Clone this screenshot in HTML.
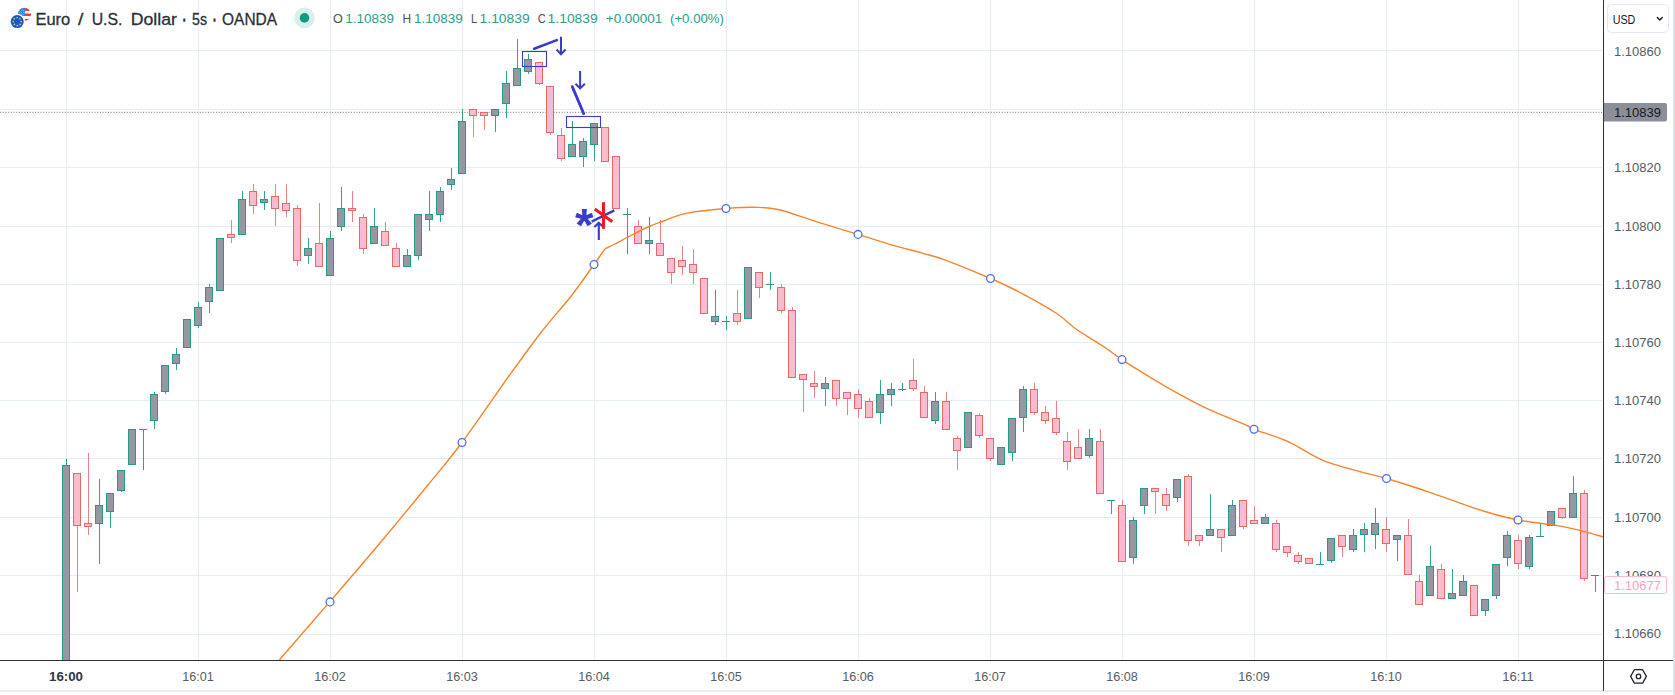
<!DOCTYPE html>
<html><head><meta charset="utf-8"><title>Euro / U.S. Dollar</title>
<style>html,body{margin:0;padding:0;background:#fff;overflow:hidden}svg{display:block}text{font-family:"Liberation Sans",sans-serif}</style></head><body>
<svg width="1675" height="695" viewBox="0 0 1675 695">
<rect x="0" y="0" width="1675" height="695" fill="#ffffff"/>
<rect x="0" y="690" width="1673" height="2" fill="#eceef4"/>
<rect x="1673" y="0" width="2" height="695" fill="#e0e3eb"/>
<g shape-rendering="crispEdges">
<rect x="66" y="0" width="1" height="660" fill="#e6edf3"/>
<rect x="198" y="0" width="1" height="660" fill="#e6edf3"/>
<rect x="330" y="0" width="1" height="660" fill="#e6edf3"/>
<rect x="462" y="0" width="1" height="660" fill="#e6edf3"/>
<rect x="594" y="0" width="1" height="660" fill="#e6edf3"/>
<rect x="726" y="0" width="1" height="660" fill="#e6edf3"/>
<rect x="858" y="0" width="1" height="660" fill="#e6edf3"/>
<rect x="990" y="0" width="1" height="660" fill="#e6edf3"/>
<rect x="1122" y="0" width="1" height="660" fill="#e6edf3"/>
<rect x="1254" y="0" width="1" height="660" fill="#e6edf3"/>
<rect x="1386" y="0" width="1" height="660" fill="#e6edf3"/>
<rect x="1518" y="0" width="1" height="660" fill="#e6edf3"/>
<rect x="0" y="50" width="1602" height="1" fill="#e6edf3"/>
<rect x="0" y="109" width="1602" height="1" fill="#e6edf3"/>
<rect x="0" y="167" width="1602" height="1" fill="#e6edf3"/>
<rect x="0" y="226" width="1602" height="1" fill="#e6edf3"/>
<rect x="0" y="284" width="1602" height="1" fill="#e6edf3"/>
<rect x="0" y="342" width="1602" height="1" fill="#e6edf3"/>
<rect x="0" y="400" width="1602" height="1" fill="#e6edf3"/>
<rect x="0" y="458" width="1602" height="1" fill="#e6edf3"/>
<rect x="0" y="517" width="1602" height="1" fill="#e6edf3"/>
<rect x="0" y="575" width="1602" height="1" fill="#e6edf3"/>
<rect x="0" y="634" width="1602" height="1" fill="#e6edf3"/>
</g>
<line x1="0" y1="112.3" x2="1603" y2="112.3" stroke="#8e919b" stroke-width="1.2" stroke-dasharray="1 1.7"/>
<g shape-rendering="crispEdges">
<rect x="66" y="459" width="1" height="201" fill="#2fa294"/>
<rect x="62" y="465" width="8" height="195" fill="#26998c"/>
<rect x="63" y="466" width="6" height="194" fill="#9598a1"/>
<rect x="77" y="474" width="1" height="118" fill="#e88383"/>
<rect x="73" y="473" width="8" height="53" fill="#e46a6a"/>
<rect x="74" y="474" width="6" height="51" fill="#f8bbd0"/>
<rect x="88" y="453" width="1" height="82" fill="#e88383"/>
<rect x="84" y="523" width="8" height="4" fill="#e46a6a"/>
<rect x="85" y="524" width="6" height="2" fill="#f8bbd0"/>
<rect x="99" y="479" width="1" height="85" fill="#2fa294"/>
<rect x="95" y="505" width="8" height="19" fill="#26998c"/>
<rect x="96" y="506" width="6" height="17" fill="#9598a1"/>
<rect x="110" y="493" width="1" height="35" fill="#2fa294"/>
<rect x="106" y="493" width="8" height="19" fill="#26998c"/>
<rect x="107" y="494" width="6" height="17" fill="#9598a1"/>
<rect x="121" y="470" width="1" height="22" fill="#2fa294"/>
<rect x="117" y="470" width="8" height="21" fill="#26998c"/>
<rect x="118" y="471" width="6" height="19" fill="#9598a1"/>
<rect x="132" y="430" width="1" height="35" fill="#2fa294"/>
<rect x="128" y="429" width="8" height="36" fill="#26998c"/>
<rect x="129" y="430" width="6" height="34" fill="#9598a1"/>
<rect x="143" y="430" width="1" height="40" fill="#2fa294"/>
<rect x="139" y="429" width="8" height="1" fill="#26998c"/>
<rect x="154" y="392" width="1" height="37" fill="#2fa294"/>
<rect x="150" y="394" width="8" height="27" fill="#26998c"/>
<rect x="151" y="395" width="6" height="25" fill="#9598a1"/>
<rect x="165" y="366" width="1" height="28" fill="#2fa294"/>
<rect x="161" y="365" width="8" height="27" fill="#26998c"/>
<rect x="162" y="366" width="6" height="25" fill="#9598a1"/>
<rect x="176" y="348" width="1" height="22" fill="#2fa294"/>
<rect x="172" y="354" width="8" height="10" fill="#26998c"/>
<rect x="173" y="355" width="6" height="8" fill="#9598a1"/>
<rect x="187" y="319" width="1" height="29" fill="#2fa294"/>
<rect x="183" y="319" width="8" height="29" fill="#26998c"/>
<rect x="184" y="320" width="6" height="27" fill="#9598a1"/>
<rect x="198" y="302" width="1" height="26" fill="#2fa294"/>
<rect x="194" y="307" width="8" height="19" fill="#26998c"/>
<rect x="195" y="308" width="6" height="17" fill="#9598a1"/>
<rect x="209" y="284" width="1" height="29" fill="#2fa294"/>
<rect x="205" y="287" width="8" height="15" fill="#26998c"/>
<rect x="206" y="288" width="6" height="13" fill="#9598a1"/>
<rect x="220" y="238" width="1" height="53" fill="#2fa294"/>
<rect x="216" y="238" width="8" height="53" fill="#26998c"/>
<rect x="217" y="239" width="6" height="51" fill="#9598a1"/>
<rect x="231" y="220" width="1" height="23" fill="#e88383"/>
<rect x="227" y="234" width="8" height="4" fill="#e46a6a"/>
<rect x="228" y="235" width="6" height="2" fill="#f8bbd0"/>
<rect x="242" y="191" width="1" height="43" fill="#2fa294"/>
<rect x="238" y="199" width="8" height="36" fill="#26998c"/>
<rect x="239" y="200" width="6" height="34" fill="#9598a1"/>
<rect x="253" y="184" width="1" height="30" fill="#e88383"/>
<rect x="249" y="191" width="8" height="15" fill="#e46a6a"/>
<rect x="250" y="192" width="6" height="13" fill="#f8bbd0"/>
<rect x="264" y="191" width="1" height="19" fill="#2fa294"/>
<rect x="260" y="199" width="8" height="4" fill="#26998c"/>
<rect x="261" y="200" width="6" height="2" fill="#9598a1"/>
<rect x="275" y="184" width="1" height="42" fill="#e88383"/>
<rect x="271" y="196" width="8" height="13" fill="#e46a6a"/>
<rect x="272" y="197" width="6" height="11" fill="#f8bbd0"/>
<rect x="286" y="184" width="1" height="33" fill="#e88383"/>
<rect x="282" y="203" width="8" height="8" fill="#e46a6a"/>
<rect x="283" y="204" width="6" height="6" fill="#f8bbd0"/>
<rect x="297" y="205" width="1" height="61" fill="#e88383"/>
<rect x="293" y="208" width="8" height="53" fill="#e46a6a"/>
<rect x="294" y="209" width="6" height="51" fill="#f8bbd0"/>
<rect x="308" y="238" width="1" height="26" fill="#2fa294"/>
<rect x="304" y="248" width="8" height="8" fill="#26998c"/>
<rect x="305" y="249" width="6" height="6" fill="#9598a1"/>
<rect x="319" y="203" width="1" height="64" fill="#e88383"/>
<rect x="315" y="243" width="8" height="24" fill="#e46a6a"/>
<rect x="316" y="244" width="6" height="22" fill="#f8bbd0"/>
<rect x="330" y="231" width="1" height="45" fill="#2fa294"/>
<rect x="326" y="238" width="8" height="38" fill="#26998c"/>
<rect x="327" y="239" width="6" height="36" fill="#9598a1"/>
<rect x="341" y="187" width="1" height="44" fill="#2fa294"/>
<rect x="337" y="208" width="8" height="19" fill="#26998c"/>
<rect x="338" y="209" width="6" height="17" fill="#9598a1"/>
<rect x="352" y="191" width="1" height="31" fill="#e88383"/>
<rect x="348" y="208" width="8" height="3" fill="#e46a6a"/>
<rect x="349" y="209" width="6" height="1" fill="#f8bbd0"/>
<rect x="363" y="214" width="1" height="40" fill="#e88383"/>
<rect x="359" y="217" width="8" height="32" fill="#e46a6a"/>
<rect x="360" y="218" width="6" height="30" fill="#f8bbd0"/>
<rect x="374" y="208" width="1" height="36" fill="#2fa294"/>
<rect x="370" y="226" width="8" height="18" fill="#26998c"/>
<rect x="371" y="227" width="6" height="16" fill="#9598a1"/>
<rect x="385" y="222" width="1" height="24" fill="#e88383"/>
<rect x="381" y="231" width="8" height="15" fill="#e46a6a"/>
<rect x="382" y="232" width="6" height="13" fill="#f8bbd0"/>
<rect x="396" y="243" width="1" height="24" fill="#e88383"/>
<rect x="392" y="248" width="8" height="19" fill="#e46a6a"/>
<rect x="393" y="249" width="6" height="17" fill="#f8bbd0"/>
<rect x="407" y="249" width="1" height="18" fill="#2fa294"/>
<rect x="403" y="255" width="8" height="12" fill="#26998c"/>
<rect x="404" y="256" width="6" height="10" fill="#9598a1"/>
<rect x="418" y="214" width="1" height="46" fill="#2fa294"/>
<rect x="414" y="214" width="8" height="42" fill="#26998c"/>
<rect x="415" y="215" width="6" height="40" fill="#9598a1"/>
<rect x="429" y="191" width="1" height="40" fill="#2fa294"/>
<rect x="425" y="214" width="8" height="6" fill="#26998c"/>
<rect x="426" y="215" width="6" height="4" fill="#9598a1"/>
<rect x="440" y="187" width="1" height="35" fill="#2fa294"/>
<rect x="436" y="191" width="8" height="24" fill="#26998c"/>
<rect x="437" y="192" width="6" height="22" fill="#9598a1"/>
<rect x="451" y="168" width="1" height="22" fill="#2fa294"/>
<rect x="447" y="179" width="8" height="6" fill="#26998c"/>
<rect x="448" y="180" width="6" height="4" fill="#9598a1"/>
<rect x="462" y="109" width="1" height="65" fill="#2fa294"/>
<rect x="458" y="121" width="8" height="53" fill="#26998c"/>
<rect x="459" y="122" width="6" height="51" fill="#9598a1"/>
<rect x="473" y="110" width="1" height="27" fill="#e88383"/>
<rect x="469" y="109" width="8" height="7" fill="#e46a6a"/>
<rect x="470" y="110" width="6" height="5" fill="#f8bbd0"/>
<rect x="484" y="112" width="1" height="18" fill="#e88383"/>
<rect x="480" y="112" width="8" height="4" fill="#e46a6a"/>
<rect x="481" y="113" width="6" height="2" fill="#f8bbd0"/>
<rect x="495" y="110" width="1" height="22" fill="#2fa294"/>
<rect x="491" y="109" width="8" height="7" fill="#26998c"/>
<rect x="492" y="110" width="6" height="5" fill="#9598a1"/>
<rect x="506" y="71" width="1" height="47" fill="#2fa294"/>
<rect x="502" y="83" width="8" height="21" fill="#26998c"/>
<rect x="503" y="84" width="6" height="19" fill="#9598a1"/>
<rect x="517" y="39" width="1" height="47" fill="#2fa294"/>
<rect x="513" y="68" width="8" height="18" fill="#26998c"/>
<rect x="514" y="69" width="6" height="16" fill="#9598a1"/>
<rect x="528" y="54" width="1" height="20" fill="#2fa294"/>
<rect x="524" y="59" width="8" height="13" fill="#26998c"/>
<rect x="525" y="60" width="6" height="11" fill="#9598a1"/>
<rect x="539" y="62" width="1" height="23" fill="#e88383"/>
<rect x="535" y="62" width="8" height="22" fill="#e46a6a"/>
<rect x="536" y="63" width="6" height="20" fill="#f8bbd0"/>
<rect x="550" y="86" width="1" height="49" fill="#e88383"/>
<rect x="546" y="86" width="8" height="47" fill="#e46a6a"/>
<rect x="547" y="87" width="6" height="45" fill="#f8bbd0"/>
<rect x="561" y="128" width="1" height="33" fill="#e88383"/>
<rect x="557" y="135" width="8" height="24" fill="#e46a6a"/>
<rect x="558" y="136" width="6" height="22" fill="#f8bbd0"/>
<rect x="572" y="121" width="1" height="35" fill="#2fa294"/>
<rect x="568" y="144" width="8" height="13" fill="#26998c"/>
<rect x="569" y="145" width="6" height="11" fill="#9598a1"/>
<rect x="583" y="138" width="1" height="29" fill="#2fa294"/>
<rect x="579" y="141" width="8" height="16" fill="#26998c"/>
<rect x="580" y="142" width="6" height="14" fill="#9598a1"/>
<rect x="594" y="124" width="1" height="37" fill="#2fa294"/>
<rect x="590" y="123" width="8" height="22" fill="#26998c"/>
<rect x="591" y="124" width="6" height="20" fill="#9598a1"/>
<rect x="605" y="128" width="1" height="33" fill="#e88383"/>
<rect x="601" y="127" width="8" height="35" fill="#e46a6a"/>
<rect x="602" y="128" width="6" height="33" fill="#f8bbd0"/>
<rect x="616" y="156" width="1" height="53" fill="#e88383"/>
<rect x="612" y="156" width="8" height="53" fill="#e46a6a"/>
<rect x="613" y="157" width="6" height="51" fill="#f8bbd0"/>
<rect x="627" y="208" width="1" height="46" fill="#2fa294"/>
<rect x="623" y="214" width="8" height="1" fill="#26998c"/>
<rect x="638" y="220" width="1" height="24" fill="#e88383"/>
<rect x="634" y="226" width="8" height="18" fill="#e46a6a"/>
<rect x="635" y="227" width="6" height="16" fill="#f8bbd0"/>
<rect x="649" y="217" width="1" height="37" fill="#2fa294"/>
<rect x="645" y="240" width="8" height="4" fill="#26998c"/>
<rect x="646" y="241" width="6" height="2" fill="#9598a1"/>
<rect x="660" y="220" width="1" height="35" fill="#e88383"/>
<rect x="656" y="243" width="8" height="13" fill="#e46a6a"/>
<rect x="657" y="244" width="6" height="11" fill="#f8bbd0"/>
<rect x="671" y="258" width="1" height="26" fill="#e88383"/>
<rect x="667" y="258" width="8" height="15" fill="#e46a6a"/>
<rect x="668" y="259" width="6" height="13" fill="#f8bbd0"/>
<rect x="682" y="246" width="1" height="29" fill="#e88383"/>
<rect x="678" y="260" width="8" height="7" fill="#e46a6a"/>
<rect x="679" y="261" width="6" height="5" fill="#f8bbd0"/>
<rect x="693" y="249" width="1" height="35" fill="#e88383"/>
<rect x="689" y="264" width="8" height="9" fill="#e46a6a"/>
<rect x="690" y="265" width="6" height="7" fill="#f8bbd0"/>
<rect x="704" y="279" width="1" height="35" fill="#e88383"/>
<rect x="700" y="278" width="8" height="36" fill="#e46a6a"/>
<rect x="701" y="279" width="6" height="34" fill="#f8bbd0"/>
<rect x="715" y="290" width="1" height="35" fill="#2fa294"/>
<rect x="711" y="316" width="8" height="6" fill="#26998c"/>
<rect x="712" y="317" width="6" height="4" fill="#9598a1"/>
<rect x="726" y="316" width="1" height="14" fill="#2fa294"/>
<rect x="722" y="321" width="8" height="1" fill="#26998c"/>
<rect x="737" y="290" width="1" height="35" fill="#e88383"/>
<rect x="733" y="313" width="8" height="9" fill="#e46a6a"/>
<rect x="734" y="314" width="6" height="7" fill="#f8bbd0"/>
<rect x="748" y="267" width="1" height="52" fill="#2fa294"/>
<rect x="744" y="267" width="8" height="52" fill="#26998c"/>
<rect x="745" y="268" width="6" height="50" fill="#9598a1"/>
<rect x="759" y="272" width="1" height="26" fill="#e88383"/>
<rect x="755" y="272" width="8" height="16" fill="#e46a6a"/>
<rect x="756" y="273" width="6" height="14" fill="#f8bbd0"/>
<rect x="770" y="272" width="1" height="18" fill="#2fa294"/>
<rect x="766" y="284" width="8" height="1" fill="#26998c"/>
<rect x="781" y="284" width="1" height="29" fill="#e88383"/>
<rect x="777" y="287" width="8" height="24" fill="#e46a6a"/>
<rect x="778" y="288" width="6" height="22" fill="#f8bbd0"/>
<rect x="792" y="307" width="1" height="70" fill="#e88383"/>
<rect x="788" y="310" width="8" height="68" fill="#e46a6a"/>
<rect x="789" y="311" width="6" height="66" fill="#f8bbd0"/>
<rect x="803" y="375" width="1" height="37" fill="#e88383"/>
<rect x="799" y="374" width="8" height="6" fill="#e46a6a"/>
<rect x="800" y="375" width="6" height="4" fill="#f8bbd0"/>
<rect x="814" y="371" width="1" height="27" fill="#e88383"/>
<rect x="810" y="383" width="8" height="4" fill="#e46a6a"/>
<rect x="811" y="384" width="6" height="2" fill="#f8bbd0"/>
<rect x="825" y="377" width="1" height="29" fill="#2fa294"/>
<rect x="821" y="383" width="8" height="6" fill="#26998c"/>
<rect x="822" y="384" width="6" height="4" fill="#9598a1"/>
<rect x="836" y="380" width="1" height="26" fill="#e88383"/>
<rect x="832" y="380" width="8" height="19" fill="#e46a6a"/>
<rect x="833" y="381" width="6" height="17" fill="#f8bbd0"/>
<rect x="847" y="392" width="1" height="23" fill="#e88383"/>
<rect x="843" y="392" width="8" height="7" fill="#e46a6a"/>
<rect x="844" y="393" width="6" height="5" fill="#f8bbd0"/>
<rect x="858" y="389" width="1" height="29" fill="#e88383"/>
<rect x="854" y="394" width="8" height="15" fill="#e46a6a"/>
<rect x="855" y="395" width="6" height="13" fill="#f8bbd0"/>
<rect x="869" y="398" width="1" height="20" fill="#e88383"/>
<rect x="865" y="401" width="8" height="17" fill="#e46a6a"/>
<rect x="866" y="402" width="6" height="15" fill="#f8bbd0"/>
<rect x="880" y="380" width="1" height="44" fill="#2fa294"/>
<rect x="876" y="394" width="8" height="19" fill="#26998c"/>
<rect x="877" y="395" width="6" height="17" fill="#9598a1"/>
<rect x="891" y="383" width="1" height="23" fill="#2fa294"/>
<rect x="887" y="389" width="8" height="6" fill="#26998c"/>
<rect x="888" y="390" width="6" height="4" fill="#9598a1"/>
<rect x="902" y="383" width="1" height="8" fill="#2fa294"/>
<rect x="898" y="389" width="8" height="1" fill="#26998c"/>
<rect x="913" y="359" width="1" height="32" fill="#e88383"/>
<rect x="909" y="380" width="8" height="9" fill="#e46a6a"/>
<rect x="910" y="381" width="6" height="7" fill="#f8bbd0"/>
<rect x="924" y="386" width="1" height="32" fill="#e88383"/>
<rect x="920" y="392" width="8" height="26" fill="#e46a6a"/>
<rect x="921" y="393" width="6" height="24" fill="#f8bbd0"/>
<rect x="935" y="392" width="1" height="32" fill="#2fa294"/>
<rect x="931" y="401" width="8" height="20" fill="#26998c"/>
<rect x="932" y="402" width="6" height="18" fill="#9598a1"/>
<rect x="946" y="392" width="1" height="37" fill="#e88383"/>
<rect x="942" y="401" width="8" height="29" fill="#e46a6a"/>
<rect x="943" y="402" width="6" height="27" fill="#f8bbd0"/>
<rect x="957" y="436" width="1" height="34" fill="#e88383"/>
<rect x="953" y="438" width="8" height="13" fill="#e46a6a"/>
<rect x="954" y="439" width="6" height="11" fill="#f8bbd0"/>
<rect x="968" y="413" width="1" height="35" fill="#2fa294"/>
<rect x="964" y="412" width="8" height="36" fill="#26998c"/>
<rect x="965" y="413" width="6" height="34" fill="#9598a1"/>
<rect x="979" y="413" width="1" height="25" fill="#e88383"/>
<rect x="975" y="415" width="8" height="21" fill="#e46a6a"/>
<rect x="976" y="416" width="6" height="19" fill="#f8bbd0"/>
<rect x="990" y="438" width="1" height="23" fill="#e88383"/>
<rect x="986" y="438" width="8" height="21" fill="#e46a6a"/>
<rect x="987" y="439" width="6" height="19" fill="#f8bbd0"/>
<rect x="1001" y="448" width="1" height="17" fill="#2fa294"/>
<rect x="997" y="447" width="8" height="18" fill="#26998c"/>
<rect x="998" y="448" width="6" height="16" fill="#9598a1"/>
<rect x="1012" y="418" width="1" height="43" fill="#2fa294"/>
<rect x="1008" y="418" width="8" height="35" fill="#26998c"/>
<rect x="1009" y="419" width="6" height="33" fill="#9598a1"/>
<rect x="1023" y="386" width="1" height="46" fill="#2fa294"/>
<rect x="1019" y="389" width="8" height="29" fill="#26998c"/>
<rect x="1020" y="390" width="6" height="27" fill="#9598a1"/>
<rect x="1034" y="383" width="1" height="32" fill="#e88383"/>
<rect x="1030" y="389" width="8" height="24" fill="#e46a6a"/>
<rect x="1031" y="390" width="6" height="22" fill="#f8bbd0"/>
<rect x="1045" y="406" width="1" height="18" fill="#e88383"/>
<rect x="1041" y="412" width="8" height="9" fill="#e46a6a"/>
<rect x="1042" y="413" width="6" height="7" fill="#f8bbd0"/>
<rect x="1056" y="401" width="1" height="34" fill="#e88383"/>
<rect x="1052" y="418" width="8" height="15" fill="#e46a6a"/>
<rect x="1053" y="419" width="6" height="13" fill="#f8bbd0"/>
<rect x="1067" y="432" width="1" height="38" fill="#e88383"/>
<rect x="1063" y="441" width="8" height="21" fill="#e46a6a"/>
<rect x="1064" y="442" width="6" height="19" fill="#f8bbd0"/>
<rect x="1078" y="429" width="1" height="29" fill="#e88383"/>
<rect x="1074" y="447" width="8" height="12" fill="#e46a6a"/>
<rect x="1075" y="448" width="6" height="10" fill="#f8bbd0"/>
<rect x="1089" y="429" width="1" height="29" fill="#2fa294"/>
<rect x="1085" y="438" width="8" height="18" fill="#26998c"/>
<rect x="1086" y="439" width="6" height="16" fill="#9598a1"/>
<rect x="1100" y="429" width="1" height="65" fill="#e88383"/>
<rect x="1096" y="441" width="8" height="53" fill="#e46a6a"/>
<rect x="1097" y="442" width="6" height="51" fill="#f8bbd0"/>
<rect x="1111" y="500" width="1" height="14" fill="#2fa294"/>
<rect x="1107" y="500" width="8" height="1" fill="#26998c"/>
<rect x="1122" y="500" width="1" height="62" fill="#e88383"/>
<rect x="1118" y="505" width="8" height="57" fill="#e46a6a"/>
<rect x="1119" y="506" width="6" height="55" fill="#f8bbd0"/>
<rect x="1133" y="517" width="1" height="47" fill="#2fa294"/>
<rect x="1129" y="520" width="8" height="38" fill="#26998c"/>
<rect x="1130" y="521" width="6" height="36" fill="#9598a1"/>
<rect x="1144" y="488" width="1" height="26" fill="#2fa294"/>
<rect x="1140" y="488" width="8" height="18" fill="#26998c"/>
<rect x="1141" y="489" width="6" height="16" fill="#9598a1"/>
<rect x="1155" y="488" width="1" height="26" fill="#e88383"/>
<rect x="1151" y="488" width="8" height="4" fill="#e46a6a"/>
<rect x="1152" y="489" width="6" height="2" fill="#f8bbd0"/>
<rect x="1166" y="488" width="1" height="23" fill="#e88383"/>
<rect x="1162" y="494" width="8" height="12" fill="#e46a6a"/>
<rect x="1163" y="495" width="6" height="10" fill="#f8bbd0"/>
<rect x="1177" y="479" width="1" height="23" fill="#2fa294"/>
<rect x="1173" y="479" width="8" height="19" fill="#26998c"/>
<rect x="1174" y="480" width="6" height="17" fill="#9598a1"/>
<rect x="1188" y="474" width="1" height="72" fill="#e88383"/>
<rect x="1184" y="476" width="8" height="65" fill="#e46a6a"/>
<rect x="1185" y="477" width="6" height="63" fill="#f8bbd0"/>
<rect x="1199" y="535" width="1" height="11" fill="#e88383"/>
<rect x="1195" y="535" width="8" height="6" fill="#e46a6a"/>
<rect x="1196" y="536" width="6" height="4" fill="#f8bbd0"/>
<rect x="1210" y="494" width="1" height="41" fill="#2fa294"/>
<rect x="1206" y="529" width="8" height="7" fill="#26998c"/>
<rect x="1207" y="530" width="6" height="5" fill="#9598a1"/>
<rect x="1221" y="529" width="1" height="23" fill="#e88383"/>
<rect x="1217" y="529" width="8" height="9" fill="#e46a6a"/>
<rect x="1218" y="530" width="6" height="7" fill="#f8bbd0"/>
<rect x="1232" y="500" width="1" height="35" fill="#2fa294"/>
<rect x="1228" y="505" width="8" height="31" fill="#26998c"/>
<rect x="1229" y="506" width="6" height="29" fill="#9598a1"/>
<rect x="1243" y="500" width="1" height="29" fill="#e88383"/>
<rect x="1239" y="500" width="8" height="27" fill="#e46a6a"/>
<rect x="1240" y="501" width="6" height="25" fill="#f8bbd0"/>
<rect x="1254" y="506" width="1" height="17" fill="#e88383"/>
<rect x="1250" y="520" width="8" height="4" fill="#e46a6a"/>
<rect x="1251" y="521" width="6" height="2" fill="#f8bbd0"/>
<rect x="1265" y="514" width="1" height="9" fill="#2fa294"/>
<rect x="1261" y="517" width="8" height="7" fill="#26998c"/>
<rect x="1262" y="518" width="6" height="5" fill="#9598a1"/>
<rect x="1276" y="520" width="1" height="32" fill="#e88383"/>
<rect x="1272" y="523" width="8" height="27" fill="#e46a6a"/>
<rect x="1273" y="524" width="6" height="25" fill="#f8bbd0"/>
<rect x="1287" y="547" width="1" height="10" fill="#e88383"/>
<rect x="1283" y="546" width="8" height="7" fill="#e46a6a"/>
<rect x="1284" y="547" width="6" height="5" fill="#f8bbd0"/>
<rect x="1298" y="552" width="1" height="12" fill="#e88383"/>
<rect x="1294" y="555" width="8" height="7" fill="#e46a6a"/>
<rect x="1295" y="556" width="6" height="5" fill="#f8bbd0"/>
<rect x="1309" y="558" width="1" height="6" fill="#e88383"/>
<rect x="1305" y="558" width="8" height="6" fill="#e46a6a"/>
<rect x="1306" y="559" width="6" height="4" fill="#f8bbd0"/>
<rect x="1320" y="552" width="1" height="12" fill="#2fa294"/>
<rect x="1316" y="564" width="8" height="1" fill="#26998c"/>
<rect x="1331" y="538" width="1" height="25" fill="#2fa294"/>
<rect x="1327" y="538" width="8" height="23" fill="#26998c"/>
<rect x="1328" y="539" width="6" height="21" fill="#9598a1"/>
<rect x="1342" y="535" width="1" height="22" fill="#e88383"/>
<rect x="1338" y="535" width="8" height="12" fill="#e46a6a"/>
<rect x="1339" y="536" width="6" height="10" fill="#f8bbd0"/>
<rect x="1353" y="529" width="1" height="23" fill="#2fa294"/>
<rect x="1349" y="535" width="8" height="15" fill="#26998c"/>
<rect x="1350" y="536" width="6" height="13" fill="#9598a1"/>
<rect x="1364" y="523" width="1" height="29" fill="#2fa294"/>
<rect x="1360" y="529" width="8" height="6" fill="#26998c"/>
<rect x="1361" y="530" width="6" height="4" fill="#9598a1"/>
<rect x="1375" y="508" width="1" height="41" fill="#2fa294"/>
<rect x="1371" y="523" width="8" height="12" fill="#26998c"/>
<rect x="1372" y="524" width="6" height="10" fill="#9598a1"/>
<rect x="1386" y="517" width="1" height="35" fill="#e88383"/>
<rect x="1382" y="529" width="8" height="15" fill="#e46a6a"/>
<rect x="1383" y="530" width="6" height="13" fill="#f8bbd0"/>
<rect x="1397" y="535" width="1" height="26" fill="#2fa294"/>
<rect x="1393" y="535" width="8" height="5" fill="#26998c"/>
<rect x="1394" y="536" width="6" height="3" fill="#9598a1"/>
<rect x="1408" y="519" width="1" height="56" fill="#e88383"/>
<rect x="1404" y="535" width="8" height="40" fill="#e46a6a"/>
<rect x="1405" y="536" width="6" height="38" fill="#f8bbd0"/>
<rect x="1419" y="575" width="1" height="29" fill="#e88383"/>
<rect x="1415" y="581" width="8" height="24" fill="#e46a6a"/>
<rect x="1416" y="582" width="6" height="22" fill="#f8bbd0"/>
<rect x="1430" y="546" width="1" height="50" fill="#2fa294"/>
<rect x="1426" y="566" width="8" height="30" fill="#26998c"/>
<rect x="1427" y="567" width="6" height="28" fill="#9598a1"/>
<rect x="1441" y="564" width="1" height="35" fill="#e88383"/>
<rect x="1437" y="569" width="8" height="30" fill="#e46a6a"/>
<rect x="1438" y="570" width="6" height="28" fill="#f8bbd0"/>
<rect x="1452" y="569" width="1" height="30" fill="#2fa294"/>
<rect x="1448" y="593" width="8" height="6" fill="#26998c"/>
<rect x="1449" y="594" width="6" height="4" fill="#9598a1"/>
<rect x="1463" y="575" width="1" height="21" fill="#2fa294"/>
<rect x="1459" y="581" width="8" height="15" fill="#26998c"/>
<rect x="1460" y="582" width="6" height="13" fill="#9598a1"/>
<rect x="1474" y="585" width="1" height="31" fill="#e88383"/>
<rect x="1470" y="585" width="8" height="31" fill="#e46a6a"/>
<rect x="1471" y="586" width="6" height="29" fill="#f8bbd0"/>
<rect x="1485" y="599" width="1" height="17" fill="#2fa294"/>
<rect x="1481" y="599" width="8" height="12" fill="#26998c"/>
<rect x="1482" y="600" width="6" height="10" fill="#9598a1"/>
<rect x="1496" y="564" width="1" height="35" fill="#2fa294"/>
<rect x="1492" y="564" width="8" height="32" fill="#26998c"/>
<rect x="1493" y="565" width="6" height="30" fill="#9598a1"/>
<rect x="1507" y="531" width="1" height="35" fill="#2fa294"/>
<rect x="1503" y="535" width="8" height="23" fill="#26998c"/>
<rect x="1504" y="536" width="6" height="21" fill="#9598a1"/>
<rect x="1518" y="535" width="1" height="34" fill="#e88383"/>
<rect x="1514" y="540" width="8" height="24" fill="#e46a6a"/>
<rect x="1515" y="541" width="6" height="22" fill="#f8bbd0"/>
<rect x="1529" y="535" width="1" height="34" fill="#2fa294"/>
<rect x="1525" y="537" width="8" height="30" fill="#26998c"/>
<rect x="1526" y="538" width="6" height="28" fill="#9598a1"/>
<rect x="1540" y="523" width="1" height="14" fill="#2fa294"/>
<rect x="1536" y="536" width="8" height="1" fill="#26998c"/>
<rect x="1551" y="511" width="1" height="15" fill="#2fa294"/>
<rect x="1547" y="511" width="8" height="15" fill="#26998c"/>
<rect x="1548" y="512" width="6" height="13" fill="#9598a1"/>
<rect x="1562" y="508" width="1" height="11" fill="#e88383"/>
<rect x="1558" y="508" width="8" height="10" fill="#e46a6a"/>
<rect x="1559" y="509" width="6" height="8" fill="#f8bbd0"/>
<rect x="1573" y="476" width="1" height="41" fill="#2fa294"/>
<rect x="1569" y="493" width="8" height="25" fill="#26998c"/>
<rect x="1570" y="494" width="6" height="23" fill="#9598a1"/>
<rect x="1584" y="490" width="1" height="91" fill="#e88383"/>
<rect x="1580" y="493" width="8" height="86" fill="#e46a6a"/>
<rect x="1581" y="494" width="6" height="84" fill="#f8bbd0"/>
<rect x="1595" y="575" width="1" height="17" fill="#2fa294"/>
<rect x="1591" y="575" width="8" height="1" fill="#26998c"/>
</g>
<path d="M279.3,660.0 C287.7,650.3 312.9,621.4 329.7,601.9 C346.5,582.4 363.6,562.5 380.0,543.0 C396.4,523.5 414.2,501.8 427.9,485.0 C441.6,468.2 448.4,460.8 462.0,442.5 C475.6,424.2 496.5,393.4 509.7,375.0 C522.9,356.6 530.9,345.4 541.2,332.2 C551.5,319.0 562.6,307.0 571.4,295.7 C580.2,284.4 589.2,271.1 594.0,264.5 C598.8,257.9 598.3,258.4 600.0,256.0 C601.7,253.7 603.1,251.6 604.0,250.4 C604.9,249.2 604.8,249.1 605.5,248.6 C606.2,248.1 606.4,248.2 608.0,247.4 C609.6,246.6 611.0,246.1 615.0,244.0 C619.0,241.9 626.2,237.9 631.9,235.0 C637.6,232.1 644.2,228.8 649.2,226.5 C654.2,224.2 657.0,223.4 662.1,221.5 C667.2,219.6 674.5,216.5 680.0,214.9 C685.5,213.3 687.2,212.9 694.9,211.8 C702.6,210.7 716.4,209.2 726.0,208.5 C735.6,207.8 744.1,207.1 752.8,207.3 C761.5,207.5 767.3,207.1 778.0,209.5 C788.7,211.9 803.7,217.7 817.0,221.8 C830.3,226.0 845.4,230.5 858.0,234.4 C870.6,238.3 881.8,242.0 892.6,245.2 C903.4,248.3 914.1,250.8 922.9,253.3 C931.7,255.8 934.0,255.9 945.3,260.1 C956.6,264.3 978.3,273.2 990.5,278.5 C1002.7,283.8 1007.5,285.9 1018.4,291.6 C1029.3,297.4 1046.3,306.7 1056.0,313.0 C1065.7,319.3 1068.7,323.9 1076.3,329.3 C1083.9,334.7 1093.9,340.1 1101.5,345.2 C1109.1,350.2 1115.3,355.1 1122.0,359.6 C1128.7,364.1 1134.3,367.6 1141.8,372.2 C1149.3,376.8 1156.1,381.2 1167.0,387.3 C1177.9,393.4 1194.3,402.5 1207.3,408.7 C1220.3,414.9 1237.3,421.2 1245.1,424.6 C1252.9,428.0 1246.9,426.5 1254.0,429.3 C1261.1,432.1 1276.1,436.2 1287.6,441.4 C1299.1,446.6 1310.8,455.3 1322.9,460.3 C1335.0,465.3 1349.4,468.6 1360.0,471.6 C1370.6,474.6 1374.6,475.0 1386.5,478.5 C1398.4,482.0 1415.4,487.5 1431.3,492.8 C1447.2,498.1 1467.2,506.0 1481.7,510.5 C1496.2,515.0 1505.4,517.5 1518.0,520.0 C1530.6,522.5 1546.5,523.8 1557.3,525.6 C1568.0,527.5 1574.9,529.2 1582.5,531.1 C1590.1,533.0 1599.6,535.9 1603.0,536.9" fill="none" stroke="#f7842c" stroke-width="1.4" stroke-linejoin="round"/>
<circle cx="330" cy="601.9" r="3.9" fill="#ffffff" stroke="#4a6df0" stroke-width="1.3"/>
<circle cx="462" cy="442.5" r="3.9" fill="#ffffff" stroke="#4a6df0" stroke-width="1.3"/>
<circle cx="594" cy="264.5" r="3.9" fill="#ffffff" stroke="#4a6df0" stroke-width="1.3"/>
<circle cx="726" cy="208.5" r="3.9" fill="#ffffff" stroke="#4a6df0" stroke-width="1.3"/>
<circle cx="858" cy="234.4" r="3.9" fill="#ffffff" stroke="#4a6df0" stroke-width="1.3"/>
<circle cx="990.5" cy="278.5" r="3.9" fill="#ffffff" stroke="#4a6df0" stroke-width="1.3"/>
<circle cx="1122" cy="359.6" r="3.9" fill="#ffffff" stroke="#4a6df0" stroke-width="1.3"/>
<circle cx="1254" cy="429.3" r="3.9" fill="#ffffff" stroke="#4a6df0" stroke-width="1.3"/>
<circle cx="1386.5" cy="478.5" r="3.9" fill="#ffffff" stroke="#4a6df0" stroke-width="1.3"/>
<circle cx="1518" cy="520" r="3.9" fill="#ffffff" stroke="#4a6df0" stroke-width="1.3"/>
<g fill="none" stroke="#3a3bc9" stroke-linecap="butt">
<rect x="522.5" y="51.5" width="24" height="15" stroke-width="1.1"/>
<rect x="566.5" y="116.5" width="34" height="11" stroke-width="1.1"/>
<line x1="534.2" y1="48.7" x2="556.8" y2="40.1" stroke-width="2.6" stroke-linecap="round"/>
<line x1="572.3" y1="86.6" x2="583.7" y2="113.6" stroke-width="2.8" stroke-linecap="round"/>
<path d="M561,36.8 V54 M556.6,49.5 L561,54.2 L565.6,49.5" stroke-width="2"/>
<path d="M580.1,71.1 V88 M575.5,83.8 L580.1,88.4 L584.9,83.8" stroke-width="2"/>
<line x1="591.6" y1="221.6" x2="614.4" y2="210.3" stroke-width="2.5"/>
<path d="M598.8,240 V223.2 M594.4,227 L598.8,222.8 L603.3,227" stroke-width="2.1"/>
</g>
<g fill="none" stroke="#ec1c24" stroke-width="3">
<line x1="603.5" y1="202.2" x2="603.5" y2="228.8"/>
<line x1="594.8" y1="209" x2="612.3" y2="221.8"/>
</g>
<text x="575.1" y="241.2" font-size="47" font-weight="bold" fill="#3a3bc9">*</text>
<g shape-rendering="crispEdges"><rect x="1603" y="0" width="1" height="691" fill="#2e323d"/><rect x="0" y="660" width="1673" height="1" fill="#2e323d"/></g>
<text x="1614" y="55.75" font-size="13" fill="#555a66" textLength="47" lengthAdjust="spacingAndGlyphs">1.10860</text>
<text x="1614" y="172.25" font-size="13" fill="#555a66" textLength="47" lengthAdjust="spacingAndGlyphs">1.10820</text>
<text x="1614" y="230.55" font-size="13" fill="#555a66" textLength="47" lengthAdjust="spacingAndGlyphs">1.10800</text>
<text x="1614" y="288.75" font-size="13" fill="#555a66" textLength="47" lengthAdjust="spacingAndGlyphs">1.10780</text>
<text x="1614" y="347.05" font-size="13" fill="#555a66" textLength="47" lengthAdjust="spacingAndGlyphs">1.10760</text>
<text x="1614" y="405.25" font-size="13" fill="#555a66" textLength="47" lengthAdjust="spacingAndGlyphs">1.10740</text>
<text x="1614" y="463.45" font-size="13" fill="#555a66" textLength="47" lengthAdjust="spacingAndGlyphs">1.10720</text>
<text x="1614" y="521.75" font-size="13" fill="#555a66" textLength="47" lengthAdjust="spacingAndGlyphs">1.10700</text>
<text x="1614" y="580.05" font-size="13" fill="#555a66" textLength="47" lengthAdjust="spacingAndGlyphs">1.10680</text>
<text x="1614" y="638.25" font-size="13" fill="#555a66" textLength="47" lengthAdjust="spacingAndGlyphs">1.10660</text>
<path d="M1604,103 H1665 Q1667,103 1667,105 V119.5 Q1667,121.5 1665,121.5 H1604 Z" fill="#8c8f99"/>
<text x="1614" y="117" font-size="13" fill="#15181f" textLength="47" lengthAdjust="spacingAndGlyphs">1.10839</text>
<rect x="1604.5" y="576.5" width="62" height="17" rx="2" fill="#ffffff" stroke="#f8bbd0" stroke-width="1"/>
<text x="1614" y="589.7" font-size="13" fill="#f5a3bd" textLength="47" lengthAdjust="spacingAndGlyphs">1.10677</text>
<rect x="1607.5" y="4.5" width="61" height="28" rx="4" fill="#ffffff" stroke="#e6e8ef" stroke-width="1"/>
<text x="1612.7" y="23.5" font-size="12.5" fill="#15181f" textLength="22.7" lengthAdjust="spacingAndGlyphs">USD</text>
<path d="M1657.3,17.6 L1659.8,20.1 L1662.3,17.6" fill="none" stroke="#15181f" stroke-width="1.4" stroke-linecap="round" stroke-linejoin="round"/>
<text x="66" y="681" font-size="13" font-weight="bold" fill="#30343f" text-anchor="middle" textLength="34" lengthAdjust="spacingAndGlyphs">16:00</text>
<text x="198" y="681" font-size="13" fill="#555a66" text-anchor="middle" textLength="31.7" lengthAdjust="spacingAndGlyphs">16:01</text>
<text x="330" y="681" font-size="13" fill="#555a66" text-anchor="middle" textLength="31.7" lengthAdjust="spacingAndGlyphs">16:02</text>
<text x="462" y="681" font-size="13" fill="#555a66" text-anchor="middle" textLength="31.7" lengthAdjust="spacingAndGlyphs">16:03</text>
<text x="594" y="681" font-size="13" fill="#555a66" text-anchor="middle" textLength="31.7" lengthAdjust="spacingAndGlyphs">16:04</text>
<text x="726" y="681" font-size="13" fill="#555a66" text-anchor="middle" textLength="31.7" lengthAdjust="spacingAndGlyphs">16:05</text>
<text x="858" y="681" font-size="13" fill="#555a66" text-anchor="middle" textLength="31.7" lengthAdjust="spacingAndGlyphs">16:06</text>
<text x="990" y="681" font-size="13" fill="#555a66" text-anchor="middle" textLength="31.7" lengthAdjust="spacingAndGlyphs">16:07</text>
<text x="1122" y="681" font-size="13" fill="#555a66" text-anchor="middle" textLength="31.7" lengthAdjust="spacingAndGlyphs">16:08</text>
<text x="1254" y="681" font-size="13" fill="#555a66" text-anchor="middle" textLength="31.7" lengthAdjust="spacingAndGlyphs">16:09</text>
<text x="1386" y="681" font-size="13" fill="#555a66" text-anchor="middle" textLength="31.7" lengthAdjust="spacingAndGlyphs">16:10</text>
<text x="1518" y="681" font-size="13" fill="#555a66" text-anchor="middle" textLength="31.7" lengthAdjust="spacingAndGlyphs">16:11</text>
<g fill="none" stroke="#1f222b" stroke-width="1.3" stroke-linejoin="round"><path d="M1630.6,676.4 L1634.4,669.7 H1642.6 L1646.4,676.4 L1642.6,683.1 H1634.4 Z"/><circle cx="1638.5" cy="676.4" r="2.2"/></g>
<g>
<clipPath id="us"><circle cx="24.4" cy="14.4" r="6.6"/></clipPath>
<g clip-path="url(#us)"><rect x="17" y="7" width="15" height="15" fill="#fafcff"/>
<rect x="17" y="7.6" width="15" height="3.3" fill="#ee3a36"/>
<rect x="17" y="13.5" width="15" height="2.5" fill="#ee3a36"/>
<rect x="17" y="18.9" width="15" height="1.9" fill="#ee3a36"/>
<rect x="17" y="7" width="8.1" height="8.9" fill="#2f8cf2"/>
<circle cx="19.5" cy="10.2" r="0.45" fill="#cfe4ff"/>
<circle cx="21.4" cy="10.2" r="0.45" fill="#cfe4ff"/>
<circle cx="23.3" cy="10.2" r="0.45" fill="#cfe4ff"/>
<circle cx="19.5" cy="12.6" r="0.45" fill="#cfe4ff"/>
<circle cx="21.4" cy="12.6" r="0.45" fill="#cfe4ff"/>
<circle cx="23.3" cy="12.6" r="0.45" fill="#cfe4ff"/>
<circle cx="19.5" cy="14.6" r="0.45" fill="#cfe4ff"/>
<circle cx="21.4" cy="14.6" r="0.45" fill="#cfe4ff"/>
<circle cx="23.3" cy="14.6" r="0.45" fill="#cfe4ff"/>
</g>
<circle cx="17.2" cy="21.6" r="7.8" fill="#ffffff"/>
<circle cx="17.2" cy="21.6" r="6.5" fill="#1158c7"/>
<circle cx="21.20" cy="21.60" r="0.85" fill="#f2cf3a"/>
<circle cx="20.03" cy="24.43" r="0.85" fill="#f2cf3a"/>
<circle cx="17.20" cy="25.60" r="0.85" fill="#f2cf3a"/>
<circle cx="14.37" cy="24.43" r="0.85" fill="#f2cf3a"/>
<circle cx="13.20" cy="21.60" r="0.85" fill="#f2cf3a"/>
<circle cx="14.37" cy="18.77" r="0.85" fill="#f2cf3a"/>
<circle cx="17.20" cy="17.60" r="0.85" fill="#f2cf3a"/>
<circle cx="20.03" cy="18.77" r="0.85" fill="#f2cf3a"/>
<text x="35.4" y="25" font-size="16.7" fill="#2b2f3a" stroke="#2b2f3a" stroke-width="0.3" textLength="34.8" lengthAdjust="spacingAndGlyphs">Euro</text>
<text x="78.1" y="25" font-size="16.7" fill="#2b2f3a" stroke="#2b2f3a" stroke-width="0.3" textLength="5.4" lengthAdjust="spacingAndGlyphs">/</text>
<text x="91.7" y="25" font-size="16.7" fill="#2b2f3a" stroke="#2b2f3a" stroke-width="0.3" textLength="30.8" lengthAdjust="spacingAndGlyphs">U.S.</text>
<text x="130.7" y="25" font-size="16.7" fill="#2b2f3a" stroke="#2b2f3a" stroke-width="0.3" textLength="46.2" lengthAdjust="spacingAndGlyphs">Dollar</text>
<text x="182.4" y="25" font-size="16.7" fill="#2b2f3a" stroke="#2b2f3a" stroke-width="1.5" textLength="3.4" lengthAdjust="spacingAndGlyphs">·</text>
<text x="192" y="25" font-size="16.7" fill="#2b2f3a" stroke="#2b2f3a" stroke-width="0.3" textLength="15" lengthAdjust="spacingAndGlyphs">5s</text>
<text x="212.8" y="25" font-size="16.7" fill="#2b2f3a" stroke="#2b2f3a" stroke-width="1.5" textLength="3.4" lengthAdjust="spacingAndGlyphs">·</text>
<text x="222.1" y="25" font-size="16.7" fill="#2b2f3a" stroke="#2b2f3a" stroke-width="0.3" textLength="55" lengthAdjust="spacingAndGlyphs">OANDA</text>
<circle cx="304.5" cy="17.9" r="10.3" fill="#d8f0eb"/><circle cx="304.5" cy="17.9" r="4.8" fill="#0e9b83"/>
<text x="332.9" y="22.9" font-size="13.3" fill="#4a4e5a" textLength="9.8" lengthAdjust="spacingAndGlyphs">O</text>
<text x="345.3" y="22.9" font-size="13.3" fill="#2a9d8f" textLength="48.7" lengthAdjust="spacingAndGlyphs">1.10839</text>
<text x="402.6" y="22.9" font-size="13.3" fill="#4a4e5a" textLength="8.6" lengthAdjust="spacingAndGlyphs">H</text>
<text x="414.1" y="22.9" font-size="13.3" fill="#2a9d8f" textLength="48.7" lengthAdjust="spacingAndGlyphs">1.10839</text>
<text x="471.1" y="22.9" font-size="13.3" fill="#4a4e5a" textLength="6.2" lengthAdjust="spacingAndGlyphs">L</text>
<text x="479.6" y="22.9" font-size="13.3" fill="#2a9d8f" textLength="50.1" lengthAdjust="spacingAndGlyphs">1.10839</text>
<text x="537.8" y="22.9" font-size="13.3" fill="#4a4e5a" textLength="8" lengthAdjust="spacingAndGlyphs">C</text>
<text x="547.6" y="22.9" font-size="13.3" fill="#2a9d8f" textLength="50.2" lengthAdjust="spacingAndGlyphs">1.10839</text>
<text x="605.8" y="22.9" font-size="13.3" fill="#2a9d8f" textLength="56.5" lengthAdjust="spacingAndGlyphs">+0.00001</text>
<text x="670" y="22.9" font-size="13.3" fill="#2a9d8f" textLength="54" lengthAdjust="spacingAndGlyphs">(+0.00%)</text>
</g>
</svg></body></html>
